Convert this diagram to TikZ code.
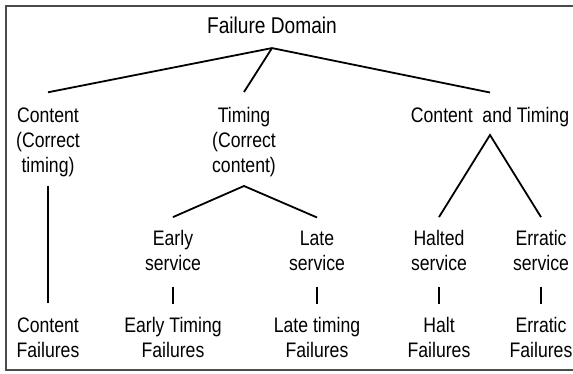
\documentclass[tikz,border=0pt]{standalone}
\usepackage{fontspec}
\setmainfont{Liberation Sans}[FakeStretch=0.84]
\usepackage{tikz}
\usetikzlibrary{positioning}
\tikzstyle{heading} = [align=center, inner sep=1pt, font=\fontsize{22.8}{25}\selectfont]
\tikzstyle{branch} = [align=center, inner sep=1pt, font=\fontsize{21}{25}\selectfont]
\tikzstyle{link} = [line width=1.8pt]

\begin{document}
\begin{tikzpicture}[x=1pt, y=-1pt]
    \tikzset{stem/.style = {link, shorten <=15pt, shorten >=12pt},
    frame/.style = {draw=black!70, line width=1.8pt}}

\useasboundingbox (0,0) rectangle (573,373);
\draw [frame] (573,6) -- (6,6) -- (6,370) -- (573,370);

\node (domain) [heading] at (272,25) {Failure Domain};
\coordinate [below=13.5pt of domain] (top);

\node (content) [branch] at (48,142) {Content\\(Correct\\timing)};
\node (timing) [branch] at (244,142) {Timing\\(Correct\\content)};
\node (both) [branch] at (490,117) {Content~ and Timing};
\coordinate [above=14pt of content] (ajoint);
\coordinate [above=14pt of timing] (bjoint);
\coordinate [above=13.5pt of both] (cjoint);
\draw [link] (ajoint) -- (top) -- (cjoint);
\draw [link] (top) -- (bjoint);

\node (early) [branch] at (173,250.5) {Early\\service};
\node (late) [branch] at (317,250.5) {Late\\service};
\coordinate [below=8pt of timing] (tjoint);
\coordinate [above=12pt of early] (ajoint);
\coordinate [above=12pt of late] (bjoint);
\draw [link] (ajoint) -- (tjoint) -- (bjoint);

\node (halted) [branch] at (439,250.5) {Halted\\service};
\node (erratic) [branch] at (541,250.5) {Erratic\\service};
\coordinate [below=7pt of both] (tjoint);
\coordinate [above=12pt of halted] (ajoint);
\coordinate [above=12pt of erratic] (bjoint);
\draw [link] (ajoint) -- (tjoint) -- (bjoint);

\node (cfail) [branch] at (48,337.5) {Content\\Failures};
\node (efail) [branch, below=44.4pt of early] {Early Timing\\Failures};
\node (lfail) [branch, below=44.4pt of late] {Late timing\\Failures};
\node (hfail) [branch, below=44.4pt of halted] {Halt\\Failures};
\node (rfail) [branch, below=44.4pt of erratic] {Erratic\\Failures};

\draw [link, shorten <=8pt, shorten >=13pt] (content) -- (cfail);
\draw [stem] (early) -- (efail);
\draw [stem] (late) -- (lfail);
\draw [stem] (halted) -- (hfail);
\draw [stem] (erratic) -- (rfail);

\end{tikzpicture}
\end{document}
